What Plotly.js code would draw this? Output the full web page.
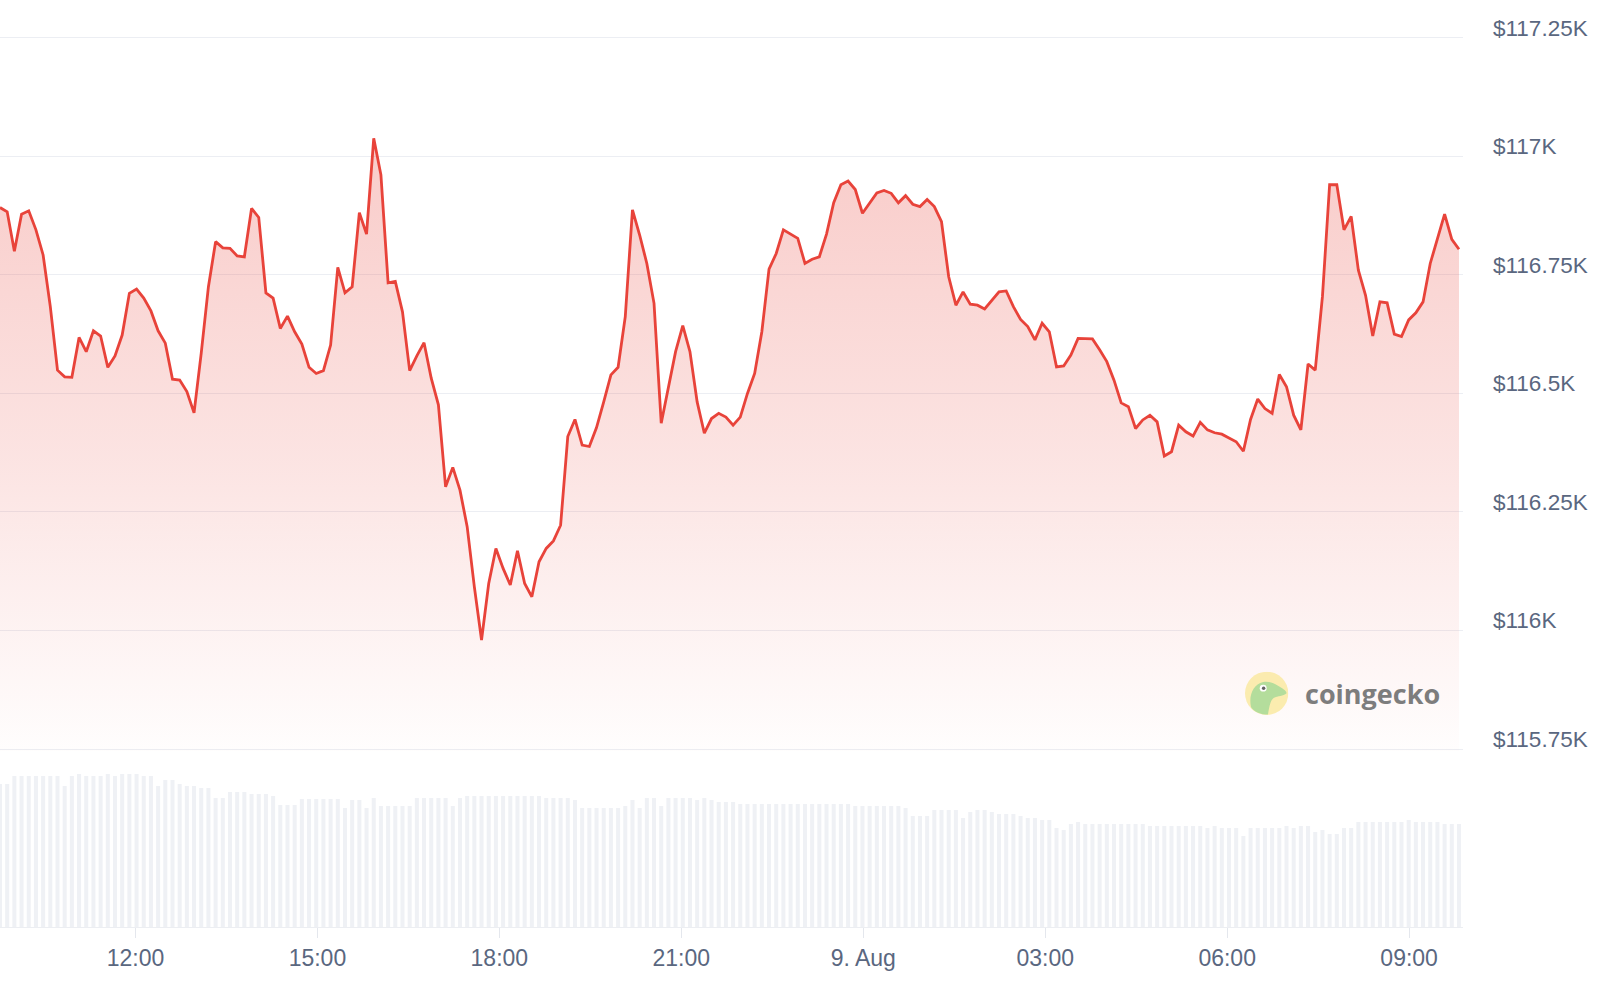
<!DOCTYPE html>
<html>
<head>
<meta charset="utf-8">
<script src="https://cdn.plot.ly/plotly-3.0.1.min.js"></script>
<style>
  html, body { margin: 0; padding: 0; background: #ffffff; }
  #chart { width: 1600px; height: 995px; }
</style>
</head>
<body>
<div id="chart"></div>
<script>
// ---- Data ----
const startTime = Date.UTC(2025, 7, 8, 9, 46, 0); // first sample, 8 Aug 09:46
const intervalMinutes = 7.11;                      // spacing between samples

const prices = [
  116892, 116883, 116800, 116878, 116885, 116845, 116792, 116683, 116549, 116535,
  116534, 116618, 116588, 116632, 116621, 116555, 116579, 116623, 116711, 116720,
  116701, 116674, 116632, 116606, 116530, 116528, 116504, 116459, 116585, 116725,
  116820, 116807, 116806, 116790, 116788, 116890, 116871, 116712, 116701, 116637,
  116663, 116630, 116604, 116555, 116542, 116548, 116602, 116766, 116712, 116725,
  116881, 116836, 117038, 116961, 116733, 116736, 116672, 116548, 116579, 116607,
  116532, 116476, 116303, 116344, 116296, 116219, 116092, 115980, 116099, 116173,
  116131, 116096, 116168, 116099, 116071, 116145, 116173, 116189, 116222, 116409,
  116445, 116391, 116388, 116428, 116482, 116539, 116555, 116662, 116887, 116834,
  116774, 116690, 116437, 116511, 116588, 116643, 116588, 116482, 116416, 116447,
  116458, 116450, 116433, 116450, 116500, 116542, 116630, 116762, 116795, 116845,
  116836, 116827, 116774, 116783, 116788, 116836, 116902, 116940, 116948, 116930,
  116880, 116901, 116923, 116928, 116922, 116902, 116917, 116899, 116894, 116909,
  116894, 116862, 116746, 116686, 116714, 116688, 116686, 116678, 116697, 116714,
  116716, 116683, 116656, 116641, 116613, 116648, 116630, 116556, 116558, 116581,
  116616, 116616, 116615, 116592, 116567, 116528, 116480, 116472, 116426, 116444,
  116454, 116440, 116368, 116377, 116433, 116419, 116410, 116439, 116423, 116417,
  116414, 116406, 116398, 116378, 116445, 116488, 116468, 116458, 116540, 116514,
  116454, 116423, 116562, 116549, 116704, 116940, 116940, 116845, 116873, 116760,
  116707, 116621, 116693, 116691, 116625, 116620, 116655, 116670, 116693, 116774,
  116827, 116878, 116825, 116804
];

// 24h volume (billions USD), one bar per sample
const volumes = [
  42.9, 42.9, 45.3, 45.3, 45.3, 45.3, 45.3, 45.3, 45.3, 42.3,
  45.3, 45.9, 45.3, 45.3, 45.3, 45.9, 45.3, 45.9, 45.9, 45.9,
  45.3, 45.3, 42.3, 44.1, 44.1, 42.9, 42.3, 42.3, 41.7, 41.7,
  38.7, 38.7, 40.5, 40.5, 40.5, 39.9, 39.9, 39.9, 39.3, 36.6,
  36.6, 36.6, 38.4, 38.4, 38.4, 38.4, 38.4, 38.4, 35.7, 38.1,
  38.1, 35.7, 38.7, 36.3, 36.3, 36.3, 36.3, 36.3, 38.7, 38.7,
  38.7, 38.7, 38.7, 36.3, 38.7, 39.3, 39.3, 39.3, 39.3, 39.3,
  39.3, 39.3, 39.3, 39.3, 39.3, 39.3, 38.7, 38.7, 38.7, 38.7,
  38.1, 35.7, 35.7, 35.7, 35.7, 35.7, 35.7, 36.3, 38.1, 35.7,
  38.7, 38.7, 36.3, 38.7, 38.7, 38.7, 38.7, 38.1, 38.7, 38.1,
  37.5, 37.5, 37.5, 36.9, 36.9, 36.9, 36.9, 36.9, 36.9, 36.9,
  36.9, 36.9, 36.9, 36.9, 36.9, 36.9, 36.9, 36.9, 36.9, 36.3,
  36.3, 36.3, 36.3, 36.3, 36.3, 36.3, 35.7, 33.3, 33.3, 33.3,
  35.1, 35.1, 35.1, 35.1, 32.7, 34.5, 35.1, 35.1, 34.5, 33.9,
  33.9, 33.9, 33.3, 32.7, 32.7, 32.1, 32.1, 29.7, 29.1, 30.9,
  31.5, 30.9, 30.9, 30.9, 30.9, 30.9, 30.9, 30.9, 30.9, 30.9,
  30.3, 30.3, 30.3, 30.3, 30.3, 30.3, 30.3, 30.3, 29.7, 30.3,
  29.7, 29.7, 29.7, 27.3, 29.7, 29.7, 29.7, 29.7, 29.7, 30.3,
  29.7, 30.3, 30.3, 28.5, 29.1, 27.9, 27.9, 29.7, 29.7, 31.5,
  31.5, 31.5, 31.5, 31.5, 31.5, 31.5, 32.1, 31.5, 31.5, 31.5,
  31.5, 30.9, 30.9, 30.9
];

const xTickVals = ['2025-08-08 12:00', '2025-08-08 15:00', '2025-08-08 18:00', '2025-08-08 21:00',
                   '2025-08-09 00:00', '2025-08-09 03:00', '2025-08-09 06:00', '2025-08-09 09:00'];
const xTickText = ['12:00', '15:00', '18:00', '21:00', '9. Aug', '03:00', '06:00', '09:00'];

const yTickVals = [115750, 116000, 116250, 116500, 116750, 117000, 117250];
const yTickText = ['$115.75K', '$116K', '$116.25K', '$116.5K', '$116.75K', '$117K', '$117.25K'];

// ---- Build ----
const times = prices.map((_, i) => startTime + i * intervalMinutes * 60000);
const xEnd = startTime + 1447.3 * 60000;

const labelColor = '#5a6780';

const volumeTrace = {
  type: 'bar',
  x: times,
  y: volumes,
  xaxis: 'x',
  yaxis: 'y2',
  marker: { color: '#eff1f5', line: { width: 0 } },
  hoverinfo: 'skip'
};

const priceTrace = {
  type: 'scatter',
  mode: 'lines',
  x: times,
  y: prices,
  xaxis: 'x',
  yaxis: 'y',
  line: { color: '#e8433a', width: 2.8, shape: 'linear' },
  fill: 'tozeroy',
  fillgradient: {
    type: 'vertical',
    start: 115750,
    stop: 117000,
    colorscale: [
      [0, 'rgba(232,69,60,0.01)'],
      [0.5, 'rgba(232,69,60,0.15)'],
      [1, 'rgba(232,69,60,0.27)']
    ]
  },
  hoverinfo: 'skip'
};

const geckoSvg =
  '<svg xmlns="http://www.w3.org/2000/svg" viewBox="0 0 100 100">' +
  '<circle cx="50" cy="50" r="50" fill="#fbeaa3"/>' +
  '<path d="M14 82 C8 56 18 30 42 24 C56 21 70 28 82 36 C90 41 96 45 96 50 C88 57 76 56 66 61 C58 67 56 82 53 99 C36 99 22 93 14 82 Z" fill="#a8d98c"/>' +
  '<circle cx="42" cy="38" r="8" fill="#ffffff"/>' +
  '<circle cx="43" cy="38" r="4" fill="#4a4a4a"/>' +
  '</svg>';

const layout = {
  width: 1600,
  height: 995,
  margin: { l: 0, r: 137, t: 0, b: 68, pad: 0 },
  paper_bgcolor: '#ffffff',
  plot_bgcolor: '#ffffff',
  showlegend: false,
  bargap: 0.44,
  font: { family: '"Liberation Sans", Arial, sans-serif', color: labelColor },
  xaxis: {
    type: 'date',
    range: [startTime, xEnd],
    anchor: 'y2',
    tickvals: xTickVals,
    ticktext: xTickText,
    ticks: 'outside',
    ticklen: 10,
    tickwidth: 1,
    tickcolor: '#e4e7ed',
    showgrid: false,
    zeroline: false,
    showline: true,
    linecolor: '#eceef2',
    linewidth: 1,
    tickfont: { size: 23, color: labelColor },
    fixedrange: true
  },
  yaxis: {
    domain: [0.18986, 1],
    range: [115745.8, 117329.7],
    side: 'right',
    tickvals: yTickVals,
    ticktext: yTickText,
    ticks: '',
    showgrid: true,
    gridcolor: '#eceef3',
    gridwidth: 1,
    zeroline: false,
    showline: false,
    tickfont: { size: 22.5, color: labelColor },
    ticklabelstandoff: 29,
    ticklabelshift: -10,
    fixedrange: true
  },
  yaxis2: {
    domain: [0, 0.18015],
    range: [0, 50.1],
    visible: false,
    fixedrange: true
  },
  images: [{
    source: 'data:image/svg+xml;charset=utf-8,' + encodeURIComponent(geckoSvg),
    xref: 'paper', yref: 'paper',
    x: 0.851, y: 0.2754,
    sizex: 0.0296, sizey: 0.0467,
    xanchor: 'left', yanchor: 'top',
    sizing: 'stretch',
    layer: 'above',
    opacity: 0.85
  }],
  annotations: [{
    xref: 'paper', yref: 'paper',
    x: 0.8908, y: 0.2524,
    xanchor: 'left', yanchor: 'middle',
    text: 'coingecko',
    showarrow: false,
    font: { family: '"Open Sans", "Noto Sans", sans-serif', size: 27, color: '#7d7d7d', weight: 700 }
  }]
};

Plotly.newPlot('chart', [volumeTrace, priceTrace], layout, { displayModeBar: false, staticPlot: true });
</script>
</body>
</html>
